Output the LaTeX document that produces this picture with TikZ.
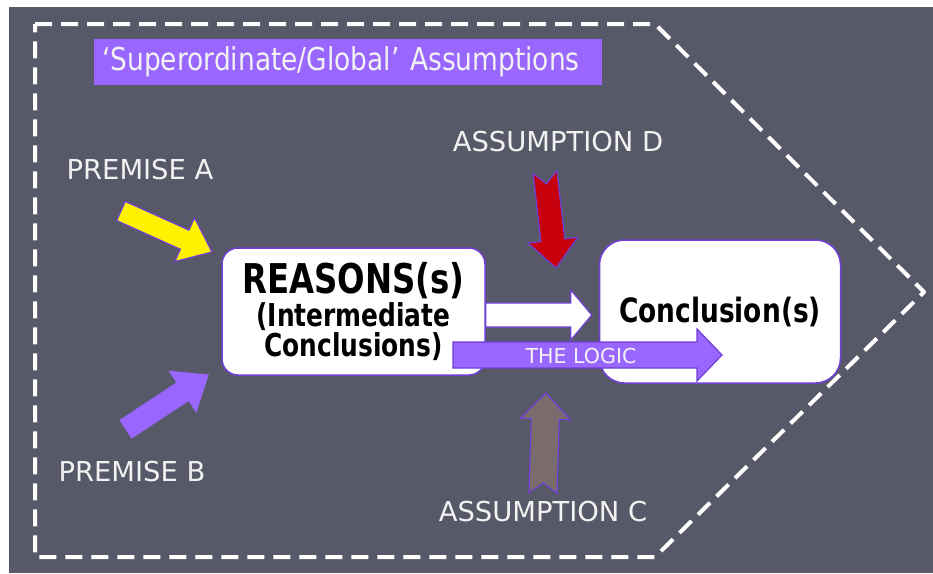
\documentclass[tikz,border=0pt]{standalone}
\usepackage{fontspec}
\setmainfont{DejaVu Sans}
\newfontfamily\boxfont[FakeStretch=0.79]{DejaVu Sans}
\newfontfamily\globfont[FakeStretch=0.84]{DejaVu Sans}
\usetikzlibrary{calc}

\definecolor{bgcol}{RGB}{87,89,104}
\definecolor{lilac}{RGB}{153,102,255}
\definecolor{rim}{RGB}{112,64,214}
\definecolor{redarr}{RGB}{200,0,12}
\definecolor{mudarr}{RGB}{122,108,108}
\definecolor{labtext}{RGB}{242,242,242}

\tikzset{
  lab/.style={text=labtext, font=\fontsize{27.4}{30}\selectfont, inner sep=0pt},
  txtbox/.style={draw=rim, line width=1.5pt, fill=white, rounded corners=16pt},
  globbox/.style={fill=lilac, text=labtext, minimum width=508pt, minimum height=46pt,
    text width=492pt, inner xsep=8pt, align=left, font=\globfont\fontsize{31.5}{32}\selectfont},
  arr/.style={draw=rim, line width=1.2pt, line join=miter},
}

% block arrow: style, tail, tip, half shaft, half head, head length, notch
\newcommand{\fatarrow}[7]{%
  \coordinate (hb) at ($(#3)!#6!(#2)$);
  \filldraw[arr,#1] (#3) -- ($(hb)!#5!90:(#3)$) -- ($(hb)!#4!90:(#3)$)
    -- ($(#2)!#4!90:(#3)$) -- ($(#2)!#7!(#3)$) -- ($(#2)!#4!-90:(#3)$)
    -- ($(hb)!#4!-90:(#3)$) -- ($(hb)!#5!-90:(#3)$) -- cycle;
}

\begin{document}
\begin{tikzpicture}[x=1pt,y=-1pt]
  \useasboundingbox (0,0) rectangle (933,573);
  \fill[white] (0,0) rectangle (933,573);
  \fill[bgcol] (9,7) rectangle (933,573);

  % dashed frame
  \draw[white, line width=4pt, dash pattern=on 17pt off 9pt, line join=round]
    (35,24) -- (655,24) -- (924,292) -- (655,557) -- (35,557) -- cycle;

  \node[globbox, anchor=north west] (glob) at (94,39) {‘Superordinate/Global’ Assumptions};

  \node[txtbox, minimum width=263pt, minimum height=127pt, align=center,
    font=\boxfont\bfseries\fontsize{31.5}{29}\selectfont] (reasons) at (353.5,311.5)
    {{\fontsize{41}{41}\selectfont REASONS(s)}\\[3pt](Intermediate\\[1pt]Conclusions)};
  \node[txtbox, rounded corners=25pt, minimum width=241pt, minimum height=143pt,
    font=\boxfont\bfseries\fontsize{33.5}{34}\selectfont] (concl) at (720,311.5) {Conclusion(s)};

  \node[lab] (premA) at (140,170) {PREMISE A};
  \node[lab] (premB) at (132,472) {PREMISE B};
  \node[lab] (asmD) at (558,142) {ASSUMPTION D};
  \node[lab] (asmC) at (543,512) {ASSUMPTION C};

  \coordinate (a0) at (121,211);
  \coordinate (a1) at (212,252);
  \coordinate (b0) at (126,429);
  \coordinate (b1) at (208,375);
  \coordinate (d0) at (545,172);
  \coordinate (d1) at (556,268);
  \coordinate (c0) at (543,493);
  \coordinate (c1) at (546,393);
  \coordinate (w0) at ([yshift=-3.5pt]reasons.east);
  \coordinate (w1) at ([xshift=-7pt,yshift=-3.5pt]concl.west);
  \coordinate (g0) at (453,355);
  \coordinate (g1) at (722,355);

  \fatarrow{fill=yellow}{a0}{a1}{10.5pt}{24pt}{30pt}{0pt}
  \fatarrow{fill=lilac,draw=lilac}{b0}{b1}{10.5pt}{24pt}{30pt}{0pt}
  \fatarrow{fill=redarr}{d0}{d1}{12pt}{25pt}{28pt}{12pt}
  \fatarrow{fill=mudarr}{c0}{c1}{14pt}{25pt}{26pt}{10pt}
  \fatarrow{fill=white}{w0}{w1}{12pt}{25pt}{21pt}{0pt}
  \fatarrow{fill=lilac}{g0}{g1}{13pt}{26pt}{25pt}{0pt}

  \node[text=labtext, font=\fontsize{20.6}{22}\selectfont, inner sep=0pt] (logic) at (581,356) {THE LOGIC};
\end{tikzpicture}
\end{document}
